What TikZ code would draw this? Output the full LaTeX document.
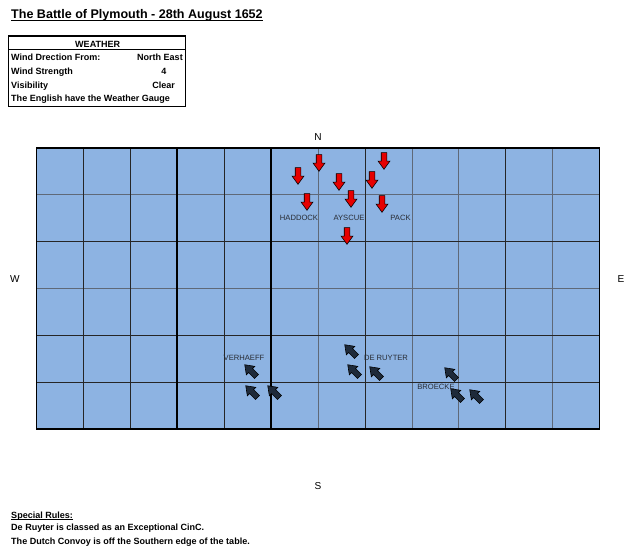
\documentclass[tikz,border=0pt]{standalone}
\usepackage{fontspec}
\setmainfont{Liberation Sans}
\usetikzlibrary{shapes.arrows}

\definecolor{seablue}{RGB}{141,179,226}
\definecolor{shipred}{RGB}{230,0,0}
\definecolor{shipnavy}{RGB}{30,42,58}
\definecolor{gridgray}{RGB}{95,105,120}
\definecolor{labelgray}{RGB}{40,44,52}

\begin{document}
\begin{tikzpicture}[x=0.03cm, y=-0.03cm,
    every node/.style={inner sep=0pt},
    headline/.style={font=\bfseries\fontsize{10.7}{13}\selectfont},
    info/.style={font=\bfseries\fontsize{7.7}{9}\selectfont},
    compass/.style={font=\fontsize{8.6}{10}\selectfont},
    squadron/.style={font=\fontsize{6.5}{8}\selectfont, text=labelgray},
    ship/.style={single arrow, draw=black, line width=0.5pt, inner sep=0.075cm,
        minimum height=0.5cm, minimum width=0.35cm, single arrow head extend=0.095cm,
        single arrow tip angle=72},
    english/.style={ship, fill=shipred, rotate=-90},
    dutch/.style={ship, fill=shipnavy, rotate=135},
    light/.style={gridgray, line width=0.6pt},
    dark/.style={black!85, line width=0.75pt},
    heavy/.style={black, line width=1.4pt}]
    \useasboundingbox (0,0) rectangle (639,550);

    % title and weather table
    \node[headline, anchor=base west] (battle) at (11,18.3) {The Battle of Plymouth - 28th August 1652};
    \draw[line width=1pt] ([yshift=-2pt]battle.base west) -- ([yshift=-2pt]battle.base east);

    \draw[line width=1.3pt] (8.3,36) rectangle (185.7,106.5);
    \draw[line width=0.6pt] (8.3,49.3) -- (185.7,49.3);
    \node[info, anchor=base] (weather) at (97.7,47) {WEATHER};
    \node[info, anchor=base west] (winddir) at (11,60.3) {Wind Drection From:};
    \node[info, anchor=base east] (winddirval) at (183,60.3) {North East};
    \node[info, anchor=base west] (windstr) at (11,74) {Wind Strength};
    \node[info, anchor=base] (windstrval) at (164,74) {4};
    \node[info, anchor=base west] (visib) at (11,88) {Visibility};
    \node[info, anchor=base] (visibval) at (163.7,88) {Clear};
    \node[info, anchor=base west] (gauge) at (11,101.7) {The English have the Weather Gauge};

    % table
    \fill[seablue] (36.5,148) rectangle (599.5,429);
    \foreach \i in {6,8,9,11}
        \draw[light] (36.5+\i*46.92,148) -- (36.5+\i*46.92,429);
    \foreach \j in {1,3}
        \draw[light] (36.5,148+\j*46.83) -- (599.5,148+\j*46.83);
    \foreach \i in {1,2,4,7,10}
        \draw[dark] (36.5+\i*46.92,148) -- (36.5+\i*46.92,429);
    \foreach \j in {2,4,5}
        \draw[dark] (36.5,148+\j*46.83) -- (599.5,148+\j*46.83);
    \foreach \i in {3,5}
        \draw[heavy] (36.5+\i*46.92,148) -- (36.5+\i*46.92,429);
    \draw[heavy] (36.5,148) rectangle (599.5,429);

    \node[compass] (north) at (318,137) {N};
    \node[compass] (south) at (318,486) {S};
    \node[compass] (west) at (15,279) {W};
    \node[compass] (east) at (621,279) {E};

    % ships
    \foreach \x/\y [count=\i] in {319/161, 298/174, 339/180, 384/159, 372/178,
                                  307/200, 351/197, 382/202, 347/234}
        \node[english] (eng\i) at (\x,\y) {};
    \foreach \x/\y [count=\i] in {252/372, 253/393, 275/393, 352/352, 355/372,
                                  377/374, 452/375, 458/396, 477/397}
        \node[dutch] (dut\i) at (\x,\y) {};

    \node[squadron] (haddock) at (299,218) {HADDOCK};
    \node[squadron] (ayscue) at (349,218) {AYSCUE};
    \node[squadron] (pack) at (400.5,218) {PACK};
    \node[squadron] (verhaeff) at (244,358.3) {VERHAEFF};
    \node[squadron] (deruyter) at (386,358.3) {DE RUYTER};
    \node[squadron] (broecke) at (436,387) {BROECKE};

    % rules
    \node[info, anchor=base west] (rules) at (11,518) {Special Rules:};
    \draw[line width=0.6pt] ([yshift=-1.5pt]rules.base west) -- ([yshift=-1.5pt]rules.base east);
    \node[info, anchor=base west] (cinc) at (11,530.7) {De Ruyter is classed as an Exceptional CinC.};
    \node[info, anchor=base west] (convoy) at (11,544) {The Dutch Convoy is off the Southern edge of the table.};
\end{tikzpicture}
\end{document}
